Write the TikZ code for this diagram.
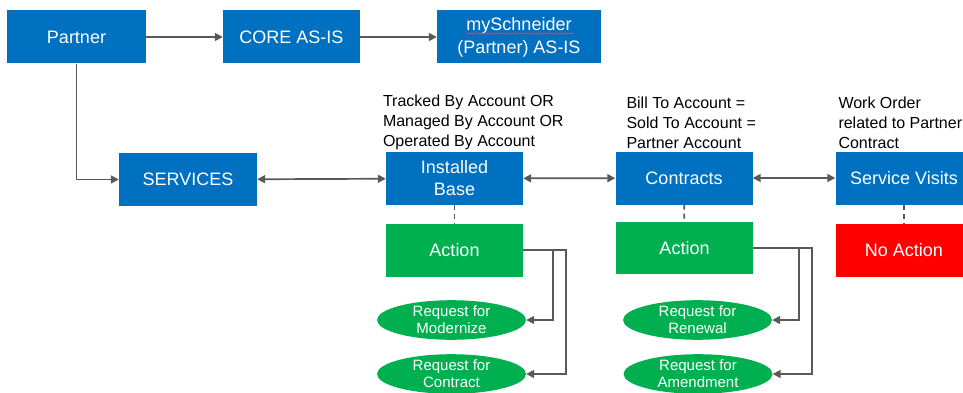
\documentclass[tikz,border=0pt]{standalone}
\usepackage{fontspec}
\setmainfont{Liberation Sans}
\usetikzlibrary{shapes.geometric, arrows.meta, positioning, decorations.pathmorphing}
\definecolor{azul}{HTML}{0070C0}
\definecolor{verde}{HTML}{00B050}
\definecolor{rojo}{HTML}{FF0000}
\definecolor{gris}{HTML}{595959}

\begin{document}
\begin{tikzpicture}[x=1pt, y=-1pt,
    caja/.style={rectangle, fill=azul, text=white, minimum width=137pt, minimum height=53pt, align=center, inner sep=2pt, font=\fontsize{18}{22}\selectfont},
    accion/.style={caja, fill=verde},
    pedido/.style={ellipse, fill=verde, text=white, minimum width=149pt, minimum height=38pt, inner sep=0pt, align=center, font=\fontsize{15}{17}\selectfont},
    nota/.style={align=left, inner sep=0pt, font=\fontsize{16}{20}\selectfont},
    flecha/.style={gris, line width=1.7pt, -{Triangle[length=8pt, width=8pt]}},
    doble/.style={flecha, {Triangle[length=8pt, width=8pt]}-{Triangle[length=8pt, width=8pt]}},
    guion/.style={gris, line width=1.7pt, dash pattern=on 5pt off 4pt}]

    \fill[white] (0,0) rectangle (963,393);
    \clip (0,0) rectangle (963,393);

    % top row
    \node[caja, minimum width=139pt] (par) at (76.5,37) {Partner};
    \node[caja] (core) at (291.5,37) {CORE AS-IS};
    \node[caja, minimum width=164pt, font=\fontsize{18}{23}\selectfont] (mys) at (519,37) {mySchneider\\(Partner) AS-IS};
    \draw[rojo!80!white, line width=0.8pt, decorate, decoration={snake, amplitude=0.6pt, segment length=3pt}] (466,33.5) -- (574,33.5);

    % middle row
    \node[caja, minimum width=138pt] (ser) at (188,179.5) {SERVICES};
    \node[caja] (ib) at (454.5,178.5) {Installed\\Base};
    \node[caja] (con) at (684,178) {Contracts};
    \node[caja] (sv) at (904,178) {Service Visits};

    \node[nota, above right=2pt and -3pt of ib.north west] {Tracked By Account OR\\Managed By Account OR\\Operated By Account};
    \node[nota, above right=2pt and 11pt of con.north west] {Bill To Account =\\Sold To Account =\\Partner Account};
    \node[nota, above right=2pt and 3pt of sv.north west] {Work Order\\related to Partner\\Contract};

    % actions
    \node[accion] (act1) at (454.5,250) {Action};
    \node[accion, minimum height=52pt] (act2) at (684.5,248) {Action};
    \node[accion, fill=rojo] (noact) at (904,250.5) {No Action};

    \node[pedido] (mod) at (451.5,320) {Request for\\Modernize};
    \node[pedido] (ctr) at (451.5,374) {Request for\\Contract};
    \node[pedido] (ren) at (697.5,320) {Request for\\Renewal};
    \node[pedido] (ame) at (698,374) {Request for\\Amendment};

    \draw[flecha] (par) -- (core);
    \draw[flecha] (core) -- (mys);
    \draw[flecha] (par) |- (ser);
    \draw[doble] (ser) -- (ib);
    \draw[doble] (ib) -- (con);
    \draw[doble] (con) -- (sv);

    \draw[guion] (ib) -- (act1);
    \draw[guion] (con) -- (act2);
    \draw[guion] (sv) -- (noact);

    \draw[flecha] (act1.east) -- ++(30,0) |- (mod.east);
    \draw[flecha] (act1.east) -- ++(43,0) |- (ctr.east);
    \draw[flecha] (act2.east) -- ++(46,0) |- (ren.east);
    \draw[flecha] (act2.east) -- ++(59,0) |- (ame.east);
\end{tikzpicture}
\end{document}
